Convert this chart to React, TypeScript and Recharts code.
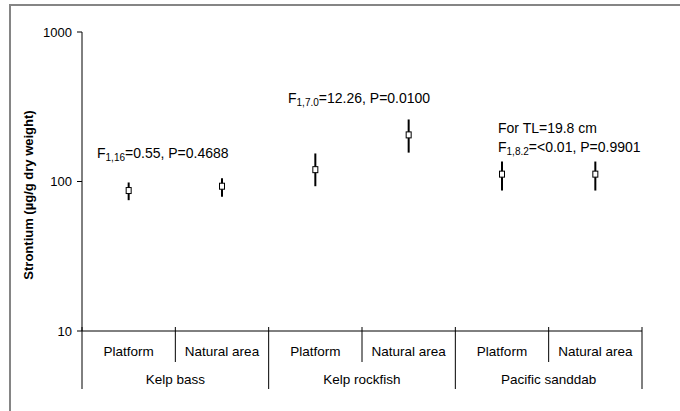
import React from "react";
import {
  ComposedChart,
  Line,
  ErrorBar,
  XAxis,
  YAxis,
  Customized,
} from "recharts";

// Strontium in muscle tissue, mean with error range, per species and site
const ids = ["kb-p", "kb-n", "kr-p", "kr-n", "ps-p", "ps-n"];
const sites = ["Platform", "Natural area", "Platform", "Natural area", "Platform", "Natural area"];
const species = ["Kelp bass", "Kelp bass", "Kelp rockfish", "Kelp rockfish", "Pacific sanddab", "Pacific sanddab"];
const means = [87, 93, 120, 205, 112, 112];
const lows = [75, 79, 93, 156, 87, 87];
const highs = [98.5, 105, 154, 260, 136, 136];
const yTicks = [10, 100, 1000];

const data = ids.map((id, i) => ({
  id,
  mean: means[i],
  err: [means[i] - lows[i], highs[i] - means[i]],
}));

const W = 680;
const H = 411;
const MARGIN = { top: 32, right: 38, bottom: 20, left: 0 };
const Y_AXIS_W = 82;
const BAND = (W - MARGIN.left - MARGIN.right - Y_AXIS_W) / ids.length;
const FONT = "'Liberation Sans', Arial, sans-serif";

function SquareDot(props: any) {
  const { cx, cy } = props;
  if (cx == null || cy == null) return null;
  return (
    <rect x={cx - 2.5} y={cy - 3} width={5} height={6} fill="#fff" stroke="#000" strokeWidth={1} />
  );
}

function CategoryTick(props: any) {
  const { x, y, payload } = props;
  const i = payload.index;
  const half = BAND / 2;
  const groupStart = i % 2 === 0;
  return (
    <g fontFamily={FONT} fontSize={13.5} fill="#000">
      <line x1={x - half} x2={x - half} y1={y - 4} y2={y + (groupStart ? 58 : 31)} stroke="#000" />
      {i === ids.length - 1 && (
        <line x1={x + half} x2={x + half} y1={y - 4} y2={y + 58} stroke="#000" />
      )}
      <text x={x} y={y + 25} textAnchor="middle">{sites[i]}</text>
      {groupStart && (
        <text x={x + half} y={y + 53} textAnchor="middle">{species[i]}</text>
      )}
    </g>
  );
}

// statistics written above each species pair
const statLines = [
  { sub: "1,16", rest: "=0.55, P=0.4688" },
  { sub: "1,7.0", rest: "=12.26, P=0.0100" },
  { sub: "1,8.2", rest: "=<0.01, P=0.9901" },
];
const statPos = [
  { x: 97, y: 158 },
  { x: 288, y: 103 },
  { x: 498, y: 152 },
];
const sanddabNote = "For TL=19.8 cm";

function Annotations() {
  return (
    <g fontFamily={FONT} fill="#000">
      {statLines.map((s, i) => (
        <text key={i} x={statPos[i].x} y={statPos[i].y} fontSize={14}>
          F
          <tspan fontSize={10} dy={3}>{s.sub}</tspan>
          <tspan dy={-3}>{s.rest}</tspan>
        </text>
      ))}
      <text x={statPos[2].x} y={statPos[2].y - 19} fontSize={14}>{sanddabNote}</text>
      <text
        x={28}
        y={195}
        fontSize={13}
        fontWeight="bold"
        textAnchor="middle"
        dominantBaseline="central"
        transform="rotate(-90 28 195)"
      >
        Strontium (µg/g dry weight)
      </text>
    </g>
  );
}

export default function App() {
  return (
    <div style={{ position: "absolute", left: 0, top: 0, width: W, height: H, overflow: "hidden", background: "#fff" }}>
      <div
        style={{
          position: "absolute",
          left: 9,
          top: 4,
          width: W + 40,
          height: H + 40,
          border: "2px solid #858585",
        }}
      />
      <div style={{ position: "absolute", left: 0, top: 0 }}>
        <ComposedChart width={W} height={H} data={data} margin={MARGIN}>
          <XAxis
            dataKey="id"
            scale="band"
            interval={0}
            height={60}
            tickLine={false}
            tickSize={0}
            tickMargin={0}
            axisLine={{ stroke: "#000" }}
            tick={<CategoryTick />}
          />
          <YAxis
            scale="log"
            domain={[10, 1000]}
            ticks={yTicks}
            allowDataOverflow
            interval={0}
            width={Y_AXIS_W}
            tickSize={5}
            tickMargin={5}
            axisLine={{ stroke: "#000" }}
            tickLine={{ stroke: "#000" }}
            tick={{ fill: "#000", fontSize: 13, fontFamily: FONT }}
          />
          <Line
            dataKey="mean"
            stroke="none"
            dot={<SquareDot />}
            activeDot={false}
            isAnimationActive={false}
          >
            <ErrorBar dataKey="err" direction="y" width={0} strokeWidth={2} stroke="#000" />
          </Line>
          <Customized component={<Annotations />} />
        </ComposedChart>
      </div>
    </div>
  );
}
